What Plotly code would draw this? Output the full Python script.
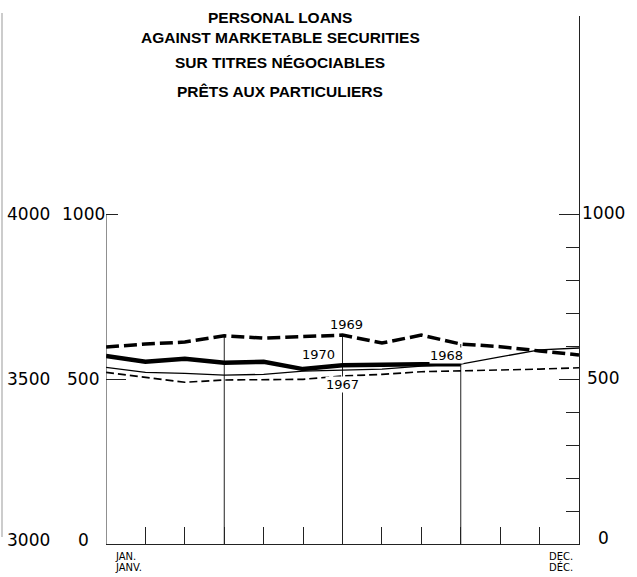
import plotly.graph_objects as go

# monthly points, jan..dec (13 tick marks along the bottom)
months = list(range(13))
y1969 = [597, 606, 612, 631, 624, 628, 633, 609, 633, 606, 598, 585, 573]
y1970 = [570, 552, 561, 549, 552, 530, 542, 545, 545, 545]
y1968 = [535, 520, 517, 512, 514, 524, 527, 530, 539, 545, 567, 588, 594]
y1967 = [520, 505, 490, 497, 497, 499, 509, 514, 522, 524, 527, 530, 534]

year_labels = ["1969", "1970", "1967", "1968"]
inner_ticks = [0, 500, 1000]
outer_ticks = ["3000", "3500", "4000"]
title_lines = ["PERSONAL LOANS", "AGAINST MARKETABLE SECURITIES",
               "SUR TITRES NÉGOCIABLES", "PRÊTS AUX PARTICULIERS"]

# plot box in page pixels
L, R, T, B = 106, 579, 16, 544
def px_x(px):
    return (px - L) / (R - L)
def px_y(py):
    return (B - py) / (B - T)

fig = go.Figure()

# vertical drop lines at apr / jul / oct up to the 1969 curve
drop_x, drop_y = [], []
for m in [3, 6, 9]:
    drop_x += [m, m, None]
    drop_y += [0, y1969[m], None]
fig.add_trace(go.Scatter(x=drop_x, y=drop_y, mode="lines",
                         line=dict(color="#222", width=1), hoverinfo="skip"))

fig.add_trace(go.Scatter(x=months, y=y1967, mode="lines",
                         line=dict(color="black", width=1.6, dash="8px,4px")))
fig.add_trace(go.Scatter(x=months, y=y1968, mode="lines",
                         line=dict(color="black", width=1.3)))
fig.add_trace(go.Scatter(x=months[:len(y1970)], y=y1970, mode="lines",
                         line=dict(color="black", width=4.5)))
fig.add_trace(go.Scatter(x=months, y=y1969, mode="lines",
                         line=dict(color="black", width=3.5, dash="13px,5px")))
# keeps the right axis alive
fig.add_trace(go.Scatter(x=[None], y=[None], yaxis="y2", hoverinfo="skip"))

num_font = dict(family="DejaVu Sans", size=17, color="black")

annotations = []
for i, t in enumerate(title_lines):
    annotations.append(dict(text="<b>" + t + "</b>", xref="paper", yref="paper",
                            x=px_x(280), y=px_y([17, 37.5, 63, 91.5][i]),
                            showarrow=False, xanchor="center", yanchor="middle",
                            font=dict(family="Liberation Sans", size=15.5, color="black")))

for i, v in enumerate(inner_ticks):
    annotations.append(dict(text=str(v), xref="paper", yref="y", x=px_x(83), y=v,
                            showarrow=False, xanchor="center", font=num_font,
                            yshift=4 if v == 0 else 0))
    annotations.append(dict(text=outer_ticks[i], xref="paper", yref="y", x=px_x(28), y=v,
                            showarrow=False, xanchor="center", font=num_font,
                            yshift=4 if v == 0 else 0))
    annotations.append(dict(text=str(v), xref="paper", yref="y", x=px_x(603), y=v,
                            showarrow=False, xanchor="center", font=num_font,
                            yshift=6 if v == 0 else 1))

lab_pos = [(6.1, 664), (5.4, 573), (6.0, 482), (8.63, 570)]
for t, (lx, ly) in zip(year_labels, lab_pos):
    annotations.append(dict(text=t, x=lx, y=ly, showarrow=False,
                            bgcolor="white", borderpad=0,
                            font=dict(family="DejaVu Sans", size=13, color="black")))

small = dict(family="DejaVu Sans", size=10, color="black")
for t, lx, ly in [("JAN.", 113, 556), ("JANV.", 113, 567),
                  ("DEC.", 547, 556), ("DÉC.", 547, 567)]:
    annotations.append(dict(text=t, xref="paper", yref="paper", x=px_x(lx), y=px_y(ly),
                            showarrow=False, xanchor="left", yanchor="middle", font=small))

fig.update_layout(
    width=637, height=577,
    margin=dict(l=L, r=637 - R, t=T, b=577 - B),
    plot_bgcolor="white", paper_bgcolor="white",
    showlegend=False,
    annotations=annotations,
    shapes=[
        # left axis only runs to 1000
        dict(type="line", xref="x", yref="y", x0=0, x1=0, y0=0, y1=1000,
             line=dict(color="#222", width=1)),
        # scan border on the far left
        dict(type="line", xref="paper", yref="paper", x0=px_x(2), x1=px_x(2),
             y0=px_y(537), y1=px_y(13), line=dict(color="#999", width=1)),
    ],
    xaxis=dict(range=[0, 12], showgrid=False, zeroline=False, showticklabels=False,
               showline=True, linecolor="#222", linewidth=1,
               tickmode="array", tickvals=months, ticks="inside", ticklen=17,
               tickcolor="#222", tickwidth=1),
    yaxis=dict(range=[0, 1600], showgrid=False, zeroline=False, showticklabels=False,
               showline=False, tickmode="array", tickvals=[500], ticks="inside",
               ticklen=20, tickcolor="#222", tickwidth=1,
               minor=dict(tickmode="array", tickvals=[1000], ticks="inside",
                          ticklen=12, tickcolor="#222", tickwidth=1)),
    yaxis2=dict(range=[0, 1600], overlaying="y", side="right", showgrid=False,
                zeroline=False, showticklabels=False, showline=True,
                linecolor="#222", linewidth=1,
                tickmode="array", tickvals=[500, 1000], ticks="inside", ticklen=20,
                tickcolor="#222", tickwidth=1,
                minor=dict(tickmode="array",
                           tickvals=[100, 200, 300, 400, 600, 700, 800, 900, 1600],
                           ticks="inside", ticklen=13, tickcolor="#222", tickwidth=1)),
)

# drop the browser's default 8px body margin so the figure sits at the page corner
fig.write_html("out.html", config={"displayModeBar": False},
               post_script="document.body.style.margin='0px';")
